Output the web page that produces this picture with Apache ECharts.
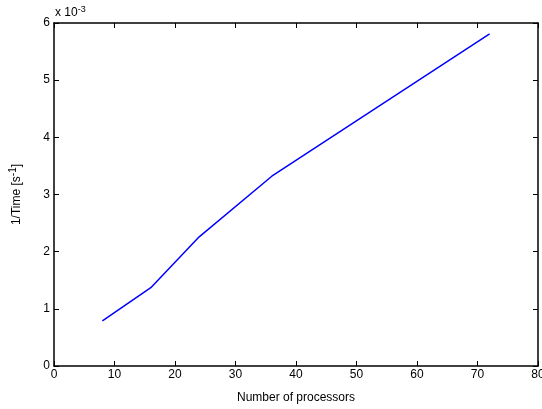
<!DOCTYPE html>
<html>
<head>
<meta charset="utf-8">
<script src="https://cdn.jsdelivr.net/npm/echarts@6/dist/echarts.min.js"></script>
<style>
  html, body { margin: 0; padding: 0; background: #fff; }
  #chart { width: 542px; height: 409px; }
</style>
</head>
<body>
<div id="chart"></div>
<script>
// processors vs 1/Time (values in units of 1e-3 s^-1)
const processors = [8, 16, 24, 36, 72];
const invTime = [0.79, 1.37, 2.26, 3.32, 5.81];
const xTicks = [0, 10, 20, 30, 40, 50, 60, 70, 80];
const yTicks = [0, 1, 2, 3, 4, 5, 6];

const font = 'Liberation Sans, Arial, sans-serif';
const chart = echarts.init(document.getElementById('chart'));

const tickStyle = { show: true, inside: true, length: 5, lineStyle: { color: '#000', width: 1 } };
const lineStyle = { show: true, onZero: false, lineStyle: { color: '#000', width: 1.5 } };

const option = {
  animation: false,
  textStyle: { fontFamily: font },
  grid: { left: 54, right: 4, top: 23, bottom: 43, outerBoundsMode: 'none' },
  graphic: [{
    type: 'text',
    left: 55,
    top: 5,
    style: {
      text: 'x 10{s|-3}',
      font: '12px ' + font,
      fill: '#000',
      rich: { s: { fontSize: 9, verticalAlign: 'top', padding: [0, 0, 7, 0] } }
    }
  }],
  xAxis: [{
    type: 'value',
    min: xTicks[0],
    max: xTicks[xTicks.length - 1],
    interval: 10,
    name: 'Number of processors',
    nameLocation: 'middle',
    nameGap: 26,
    nameTextStyle: { fontSize: 12, color: '#000' },
    axisLine: lineStyle,
    axisTick: tickStyle,
    axisLabel: { color: '#000', fontSize: 12, margin: 3 },
    splitLine: { show: false }
  }, {
    type: 'value',
    position: 'top',
    min: xTicks[0],
    max: xTicks[xTicks.length - 1],
    interval: 10,
    axisLine: lineStyle,
    axisTick: tickStyle,
    axisLabel: { show: false },
    splitLine: { show: false }
  }],
  yAxis: [{
    type: 'value',
    min: yTicks[0],
    max: yTicks[yTicks.length - 1],
    interval: 1,
    name: '1/Time [s{s|-1}]',
    nameLocation: 'middle',
    nameGap: 29,
    nameRotate: 90,
    nameTextStyle: {
      fontSize: 12, color: '#000',
      rich: { s: { fontSize: 10, verticalAlign: 'top', padding: [0, 0, 7, 0] } }
    },
    axisLine: lineStyle,
    axisTick: tickStyle,
    axisLabel: { color: '#000', fontSize: 12, margin: 4 },
    splitLine: { show: false }
  }, {
    type: 'value',
    position: 'right',
    min: yTicks[0],
    max: yTicks[yTicks.length - 1],
    interval: 1,
    axisLine: lineStyle,
    axisTick: tickStyle,
    axisLabel: { show: false },
    splitLine: { show: false }
  }],
  series: [{
    type: 'line',
    data: processors.map((p, i) => [p, invTime[i]]),
    showSymbol: false,
    lineStyle: { color: '#0000ff', width: 1.5 },
    itemStyle: { color: '#0000ff' }
  }]
};

chart.setOption(option);
</script>
</body>
</html>
